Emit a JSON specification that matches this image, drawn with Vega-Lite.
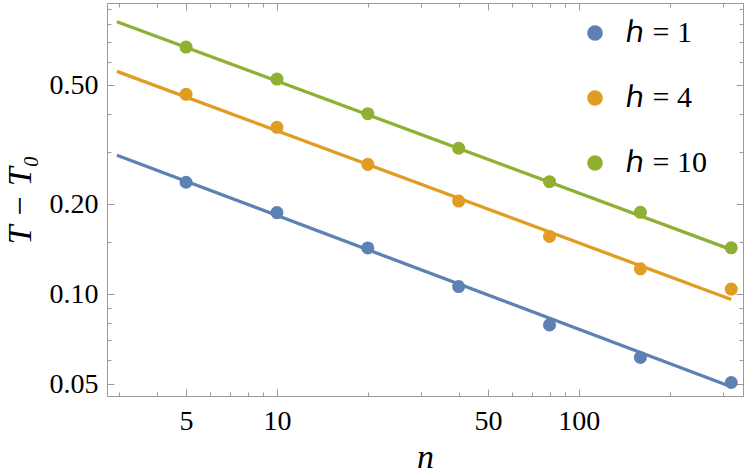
{
  "$schema": "https://vega.github.io/schema/vega-lite/v6.json",
  "width": 636,
  "height": 393,
  "autosize": {"type": "none"},
  "padding": {"left": 107, "top": 3, "right": 4, "bottom": 77},
  "config": {
    "view": {"stroke": "#9a9a9a"},
    "font": "Liberation Serif",
    "axis": {
      "grid": false,
      "domainColor": "#9a9a9a",
      "tickColor": "#9a9a9a",
      "labelFont": "Liberation Serif",
      "labelFontSize": 28,
      "labelColor": "#000",
      "titleFont": "Liberation Serif",
      "titleFontWeight": "normal",
      "titleColor": "#000",
      "labelOverlap": false,
      "labelFlush": false
    },
    "legend": {
      "labelFont": "Liberation Serif",
      "labelFontSize": 30,
      "labelColor": "#000"
    }
  },
  "datasets": {
    "pts": [
      {"n": 5, "v": 0.237, "h": "h = 1"},
      {"n": 10, "v": 0.1875, "h": "h = 1"},
      {"n": 20, "v": 0.1428, "h": "h = 1"},
      {"n": 40, "v": 0.106, "h": "h = 1"},
      {"n": 80, "v": 0.0789, "h": "h = 1"},
      {"n": 160, "v": 0.0614, "h": "h = 1"},
      {"n": 320, "v": 0.0506, "h": "h = 1"},
      {"n": 5, "v": 0.467, "h": "h = 4"},
      {"n": 10, "v": 0.362, "h": "h = 4"},
      {"n": 20, "v": 0.272, "h": "h = 4"},
      {"n": 40, "v": 0.205, "h": "h = 4"},
      {"n": 80, "v": 0.156, "h": "h = 4"},
      {"n": 160, "v": 0.1216, "h": "h = 4"},
      {"n": 320, "v": 0.104, "h": "h = 4"},
      {"n": 5, "v": 0.672, "h": "h = 10"},
      {"n": 10, "v": 0.525, "h": "h = 10"},
      {"n": 20, "v": 0.402, "h": "h = 10"},
      {"n": 40, "v": 0.308, "h": "h = 10"},
      {"n": 80, "v": 0.238, "h": "h = 10"},
      {"n": 160, "v": 0.188, "h": "h = 10"},
      {"n": 320, "v": 0.143, "h": "h = 10"}
    ],
    "fit": [
      {"n": 2.95, "v": 0.292, "h": "h = 1"},
      {"n": 320, "v": 0.049, "h": "h = 1"},
      {"n": 2.95, "v": 0.557, "h": "h = 4"},
      {"n": 320, "v": 0.096, "h": "h = 4"},
      {"n": 2.95, "v": 0.817, "h": "h = 10"},
      {"n": 320, "v": 0.141, "h": "h = 10"}
    ]
  },
  "resolve": {"axis": {"x": "independent", "y": "independent"}},
  "layer": [
    {
      "data": {"name": "fit"},
      "mark": {"type": "line", "strokeWidth": 3.3},
      "encoding": {
        "x": {
          "field": "n", "type": "quantitative",
          "scale": {"type": "log", "domain": [2.735, 350], "nice": false},
          "axis": {
            "orient": "bottom",
            "values": [3, 4, 5, 6, 7, 8, 9, 10, 20, 30, 40, 50, 60, 70, 80, 90, 100, 200, 300],
            "labelExpr": "indexof([5,10,50,100], datum.value) >= 0 ? '' + datum.value : ''",
            "tickSize": {"condition": {"test": "indexof([5,10,50,100], datum.value) >= 0", "value": -7}, "value": -4},
            "labelPadding": 18,
            "title": "n",
            "titleFontStyle": "italic",
            "titleFontSize": 34,
            "titlePadding": 2
          }
        },
        "y": {
          "field": "v", "type": "quantitative",
          "scale": {"type": "log", "domain": [0.0456, 0.944], "nice": false, "zero": false},
          "axis": {
            "orient": "left",
            "values": [0.05, 0.06, 0.07, 0.08, 0.09, 0.1, 0.15, 0.2, 0.3, 0.4, 0.5, 0.6, 0.7, 0.8, 0.9],
            "labelExpr": "indexof([0.05,0.1,0.2,0.5], datum.value) >= 0 ? format(datum.value, '.2f') : ''",
            "tickSize": {"condition": {"test": "indexof([0.05,0.1,0.2,0.5], datum.value) >= 0", "value": -7}, "value": -4},
            "labelPadding": 16,
            "title": "T − T₀",
            "titleFontStyle": "italic",
            "titleFontSize": 34,
            "titlePadding": 12
          }
        },
        "color": {
          "field": "h", "type": "nominal",
          "scale": {"domain": ["h = 1", "h = 4", "h = 10"], "range": ["#5E81B5", "#E19C24", "#8FB032"]},
          "legend": {
            "orient": "none",
            "legendX": 473,
            "legendY": 15,
            "padding": 0,
            "title": null,
            "symbolType": "circle",
            "symbolSize": 200,
            "labelFont": "Liberation Serif",
            "labelFontSize": 30,
            "labelOffset": 16,
            "rowPadding": 35,
            "labelExpr": "replace(datum.label, 'h', 'ℎ')",
            "encode": {
              "labels": {
                "update": {
                  "font": {"value": "Liberation Serif"},
                  "fontSize": {"value": 30}
                }
              }
            }
          }
        }
      }
    },
    {
      "data": {"name": "pts"},
      "mark": {"type": "point", "filled": true, "size": 170, "opacity": 1},
      "encoding": {
        "x": {
          "field": "n", "type": "quantitative",
          "axis": {
            "orient": "top",
            "values": [3, 4, 5, 6, 7, 8, 9, 10, 20, 30, 40, 50, 60, 70, 80, 90, 100, 200, 300],
            "labels": false,
            "tickSize": {"condition": {"test": "indexof([5,10,50,100], datum.value) >= 0", "value": -7}, "value": -4},
            "title": null
          }
        },
        "y": {
          "field": "v", "type": "quantitative",
          "axis": {
            "orient": "right",
            "values": [0.05, 0.06, 0.07, 0.08, 0.09, 0.1, 0.15, 0.2, 0.3, 0.4, 0.5, 0.6, 0.7, 0.8, 0.9],
            "labels": false,
            "tickSize": {"condition": {"test": "indexof([0.05,0.1,0.2,0.5], datum.value) >= 0", "value": -7}, "value": -4},
            "title": null
          }
        },
        "color": {"field": "h", "type": "nominal"}
      }
    }
  ]
}
